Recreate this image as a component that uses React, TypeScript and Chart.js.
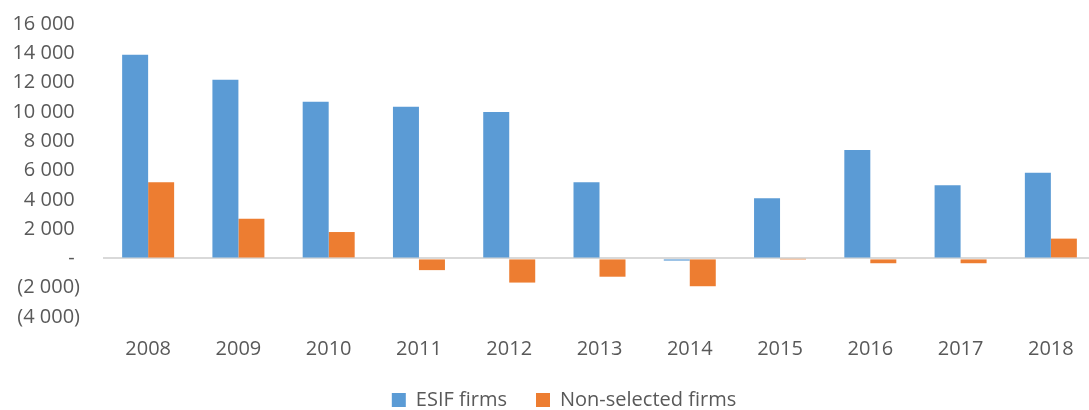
import React, { useEffect, useRef } from "react";
import { Chart, registerables } from "chart.js";

Chart.register(...registerables);

const years = ["2008", "2009", "2010", "2011", "2012", "2013", "2014", "2015", "2016", "2017", "2018"];
const esifFirms = [13900, 12200, 10700, 10350, 10000, 5200, -150, 4100, 7400, 5000, 5850];
const nonSelectedFirms = [5200, 2700, 1800, -800, -1650, -1250, -1900, -30, -330, -330, 1350];
const yMin = -4000;
const yMax = 16000;
const yStep = 2000;

const fmt = (v: number) => String(Math.round(v)).replace(/\B(?=(\d{3})+(?!\d))/g, " ");
const tickLabel = (v: number) => (v === 0 ? "- " : v < 0 ? `(${fmt(-v)})` : `${fmt(v)} `);

const FONT = '"Open Sans", sans-serif';
const TEXT = "#595959";

const shiftLegend = {
  id: "shiftLegend",
  afterLayout(chart: any) {
    if (chart.legend) {
      chart.legend.left += 16;
      chart.legend.right += 16;
    }
  },
};

export default function App() {
  const ref = useRef<HTMLCanvasElement | null>(null);
  useEffect(() => {
    if (!ref.current) return;
    const chart = new Chart(ref.current, {
      type: "bar",
      data: {
        labels: years,
        datasets: [
          { label: "ESIF firms", data: esifFirms, backgroundColor: "#5B9BD5", borderWidth: 0 },
          { label: "Non-selected firms", data: nonSelectedFirms, backgroundColor: "#ED7D31", borderWidth: 0 },
        ],
      },
      plugins: [shiftLegend],
      options: {
        responsive: false,
        maintainAspectRatio: false,
        animation: false,
        layout: { padding: { top: 24, left: 0, right: 4, bottom: -10 } },
        datasets: { bar: { categoryPercentage: 0.576, barPercentage: 1 } },
        plugins: {
          tooltip: { enabled: false },
          legend: {
            position: "bottom",
            labels: {
              boxWidth: 14,
              boxHeight: 14,
              padding: 29,
              color: TEXT,
              font: { family: FONT, size: 20 },
            },
          },
        },
        scales: {
          x: {
            afterFit: (s: any) => {
              s.height = 44;
            },
            grid: { display: false, drawTicks: false },
            border: { display: false },
            ticks: { color: TEXT, font: { family: FONT, size: 20 }, padding: 20, maxRotation: 0, autoSkip: false },
          },
          y: {
            min: yMin,
            max: yMax,
            afterFit: (s: any) => {
              s.width = 103;
            },
            grid: {
              drawTicks: true,
              tickLength: 23,
              tickColor: "rgba(0,0,0,0)",
              color: (c: any) => (c.tick && c.tick.value === 0 ? "#d9d9d9" : "rgba(0,0,0,0)"),
              lineWidth: 2,
            },
            border: { display: false },
            ticks: {
              stepSize: yStep,
              autoSkip: false,
              color: TEXT,
              font: { family: FONT, size: 20 },
              padding: 0,
              callback: (v: any) => tickLabel(Number(v)),
            },
          },
        },
      },
    });
    return () => chart.destroy();
  }, []);
  return (
    <div style={{ position: "absolute", left: 0, top: 0, width: 1089, height: 410, overflow: "hidden", background: "#fff" }}>
      <canvas ref={ref} width={1100} height={410} style={{ width: 1100, height: 410, display: "block" }} />
    </div>
  );
}
